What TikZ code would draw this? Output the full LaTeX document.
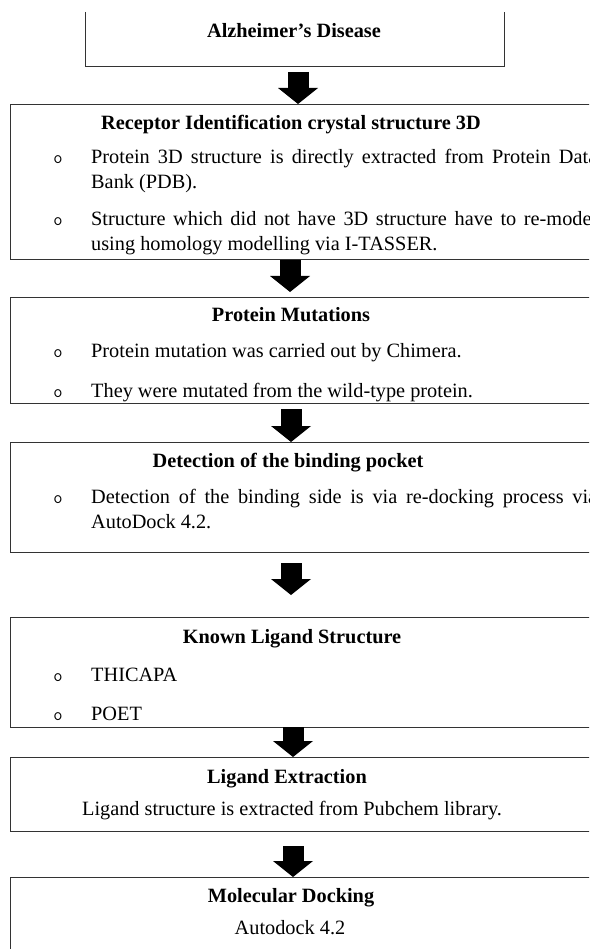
\documentclass[tikz,border=0pt]{standalone}
\usepackage{fontspec}
\setmainfont{Liberation Serif}
\usetikzlibrary{arrows.meta, positioning}

\newcommand{\flowfont}{\fontsize{20.3pt}{25pt}\selectfont}

\begin{document}
\begin{tikzpicture}[x=1pt, y=-1pt,
    panel/.style={draw=black!80, line width=1pt, anchor=north west, inner sep=0pt, minimum width=620pt},
    headtext/.style={font=\flowfont\bfseries, anchor=base},
    plaintext/.style={font=\flowfont, anchor=base},
    bulletmark/.style={font=\fontsize{18pt}{20pt}\selectfont\ttfamily, anchor=base},
    bodytext/.style={font=\flowfont, anchor=base west, inner sep=0pt, text width=506pt, align=justify,
        execute at begin node={\tolerance=9999\hyphenpenalty=10000\exhyphenpenalty=10000}},
    blockarrow/.style={line width=21pt, -{Triangle[width=40pt, length=16pt, line width=0pt]}}]
    \useasboundingbox (0,0) rectangle (589,949);
    \clip (0,0) rectangle (589,949);

    % top box, open at the top
    \node[anchor=north west, inner sep=0pt, minimum width=419pt, minimum height=54pt] (box1) at (85,12) {};
    \draw[black!80, line width=1pt] (box1.north west) -- (box1.south west) -- (box1.south east) -- (box1.north east);
    \node[headtext] (t1) at (294,38) {Alzheimer’s Disease};

    % receptor
    \node[panel, minimum height=155pt] (box2) at (10,104) {};
    \node[headtext] (t2) at (291,130) {Receptor Identification crystal structure 3D};
    \node[bulletmark] (m2a) at (58,164) {o};
    \node[bodytext] (p2a) at (91,164) {Protein 3D structure is directly extracted from Protein Data Bank (PDB).};
    \node[bulletmark] (m2b) at (58,226) {o};
    \node[bodytext] (p2b) at (91,226) {Structure which did not have 3D structure have to re-model using homology modelling via I-TASSER.};

    % mutations
    \node[panel, minimum height=106pt] (box3) at (10,297) {};
    \node[headtext] (t3) at (291,321) {Protein Mutations};
    \node[bulletmark] (m3a) at (58,357) {o};
    \node[bodytext] (p3a) at (91,357) {Protein mutation was carried out by Chimera.};
    \node[bulletmark] (m3b) at (58,397) {o};
    \node[bodytext] (p3b) at (91,397) {They were mutated from the wild-type protein.};

    % pocket
    \node[panel, minimum height=110pt] (box4) at (10,442) {};
    \node[headtext] (t4) at (288,467) {Detection of the binding pocket};
    \node[bulletmark] (m4a) at (58,503) {o};
    \node[bodytext] (p4a) at (91,503) {Detection of the binding side is via re-docking process via AutoDock 4.2.};

    % ligands
    \node[panel, minimum height=110pt] (box5) at (10,617) {};
    \node[headtext] (t5) at (292,643) {Known Ligand Structure};
    \node[bulletmark] (m5a) at (58,681) {o};
    \node[bodytext] (p5a) at (91,681) {THICAPA};
    \node[bulletmark] (m5b) at (58,720) {o};
    \node[bodytext] (p5b) at (91,720) {POET};

    % extraction
    \node[panel, minimum height=74pt] (box6) at (10,757) {};
    \node[headtext] (t6) at (287,783) {Ligand Extraction};
    \node[plaintext] (p6) at (292,815) {Ligand structure is extracted from Pubchem library.};

    % docking
    \node[panel, minimum height=100pt] (box7) at (10,877) {};
    \node[headtext] (t7) at (291,902) {Molecular Docking};
    \node[plaintext] (p7) at (290,934) {Autodock 4.2};

    % arrows
    \coordinate (a1) at (298,72);
    \coordinate (a2) at (290,260);
    \coordinate (a3) at (291,409);
    \coordinate (a4) at (291,563);
    \coordinate (a5) at (293,727);
    \coordinate (a6) at (293,846);
    \draw[blockarrow] (a1) -- (a1 |- box2.north);
    \draw[blockarrow] (a2) -- ++(0,32);
    \draw[blockarrow] (a3) -- (a3 |- box4.north);
    \draw[blockarrow] (a4) -- ++(0,32);
    \draw[blockarrow] (a5) -- (a5 |- box6.north);
    \draw[blockarrow] (a6) -- (a6 |- box7.north);
\end{tikzpicture}
\end{document}
